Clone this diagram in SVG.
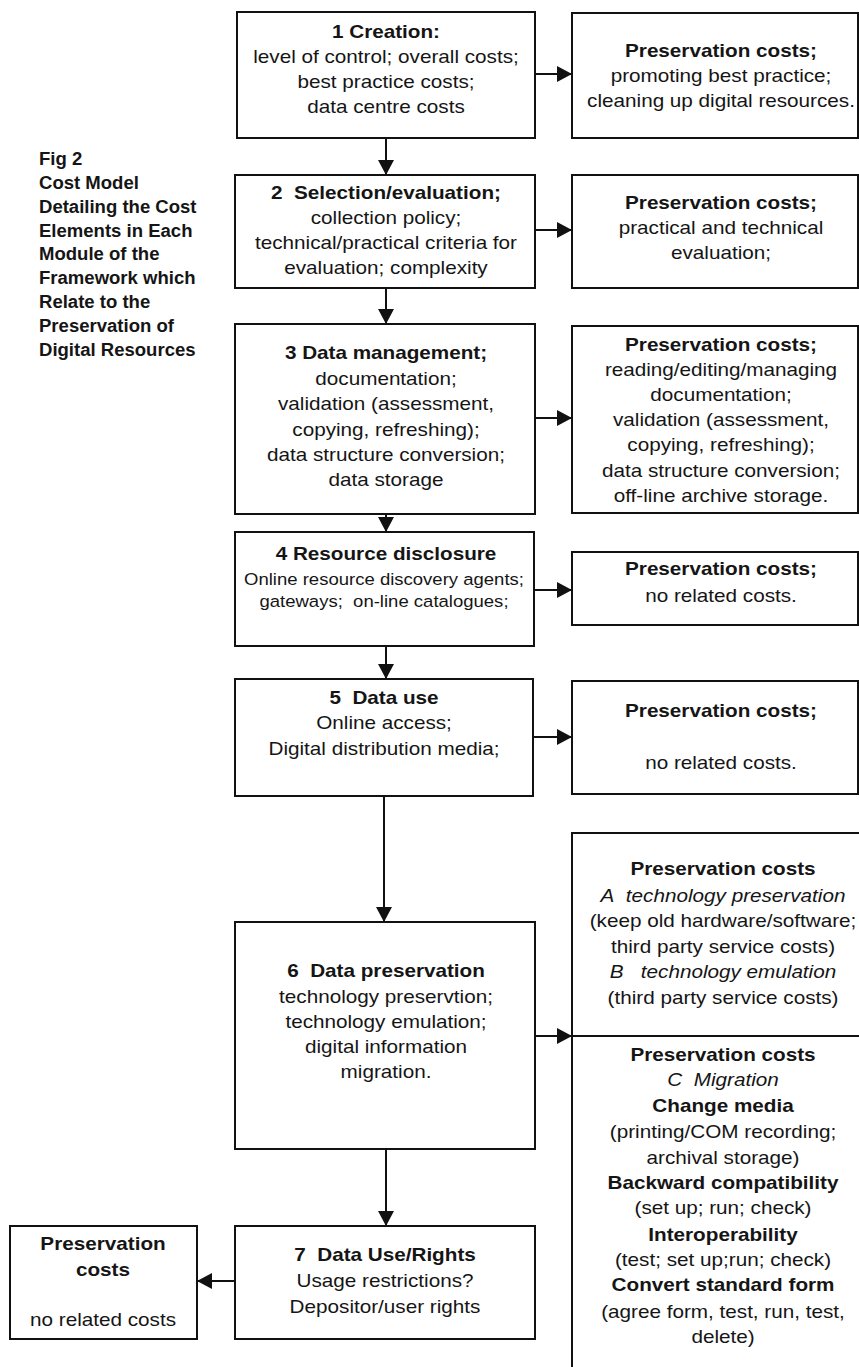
<svg xmlns="http://www.w3.org/2000/svg" width="859" height="1367" viewBox="0 0 859 1367">
<defs>
<marker id="ah" markerUnits="userSpaceOnUse" markerWidth="16" markerHeight="16" refX="15" refY="8" orient="auto">
<path d="M0,0 L15,8 L0,16 Z" fill="#111"/>
</marker>
<style>
.box{fill:#fff;stroke:#111;stroke-width:2}
.ln{fill:none;stroke:#111;stroke-width:2;marker-end:url(#ah)}
text{font-family:"Liberation Sans",Arial,sans-serif;font-size:18px;fill:#151515;text-anchor:middle}
.b{font-weight:bold}
.i{font-style:italic}
.sm{font-size:17px}
.title{font-weight:bold;font-size:18px;text-anchor:start}
</style>
</defs>
<rect width="859" height="1367" fill="#fff"/>

<g id="title" transform="translate(39 0) scale(1.03 1)">
<text class="title" x="0" y="165">Fig 2</text>
<text class="title" x="0" y="189">Cost Model</text>
<text class="title" x="0" y="213">Detailing the Cost</text>
<text class="title" x="0" y="237">Elements in Each</text>
<text class="title" x="0" y="260">Module of the</text>
<text class="title" x="0" y="284">Framework which</text>
<text class="title" x="0" y="308">Relate to the</text>
<text class="title" x="0" y="332">Preservation of</text>
<text class="title" x="0" y="356">Digital Resources</text>
</g>

<g id="connectors">
<line class="ln" x1="386" y1="138" x2="386" y2="175"/>
<line class="ln" x1="386" y1="288" x2="386" y2="324"/>
<line class="ln" x1="386" y1="514" x2="386" y2="532"/>
<line class="ln" x1="386" y1="646" x2="386" y2="679"/>
<line class="ln" x1="384" y1="796" x2="384" y2="922"/>
<line class="ln" x1="386" y1="1149" x2="386" y2="1226"/>
<line class="ln" x1="535" y1="74" x2="572" y2="74"/>
<line class="ln" x1="532" y1="230" x2="572" y2="230"/>
<line class="ln" x1="535" y1="418" x2="572" y2="418"/>
<line class="ln" x1="532" y1="590" x2="572" y2="590"/>
<line class="ln" x1="533" y1="737" x2="572" y2="737"/>
<line class="ln" x1="533" y1="1036" x2="572" y2="1036"/>
<line class="ln" x1="235" y1="1281" x2="197" y2="1281"/>
</g>

<g id="n1">
<rect class="box" x="237" y="12" width="298" height="126"/>
<g transform="translate(386 0) scale(1.15 1)">
<text class="b" x="0" y="38">1 Creation:</text>
<text x="0" y="63">level of control; overall costs;</text>
<text x="0" y="88">best practice costs;</text>
<text x="0" y="113">data centre costs</text>
</g>
</g>

<g id="r1">
<rect class="box" x="572" y="13" width="286" height="125"/>
<g transform="translate(721 0) scale(1.15 1)">
<text class="b" x="0" y="57">Preservation costs;</text>
<text x="0" y="82">promoting best practice;</text>
<text x="0" y="107">cleaning up digital resources.</text>
</g>
</g>

<g id="n2">
<rect class="box" x="235" y="175" width="300" height="113"/>
<g transform="translate(386 0) scale(1.15 1)">
<text class="b" x="0" y="199">2&#160; Selection/evaluation;</text>
<text x="0" y="224">collection policy;</text>
<text x="0" y="249">technical/practical criteria for</text>
<text x="0" y="274">evaluation; complexity</text>
</g>
</g>

<g id="r2">
<rect class="box" x="572" y="175" width="286" height="113"/>
<g transform="translate(721 0) scale(1.15 1)">
<text class="b" x="0" y="209">Preservation costs;</text>
<text x="0" y="234">practical and technical</text>
<text x="0" y="259">evaluation;</text>
</g>
</g>

<g id="n3">
<rect class="box" x="235" y="324" width="300" height="190"/>
<g transform="translate(386 0) scale(1.15 1)">
<text class="b" x="0" y="359">3 Data management;</text>
<text x="0" y="385">documentation;</text>
<text x="0" y="410">validation (assessment,</text>
<text x="0" y="436">copying, refreshing);</text>
<text x="0" y="461">data structure conversion;</text>
<text x="0" y="486">data storage</text>
</g>
</g>

<g id="r3">
<rect class="box" x="572" y="326" width="286" height="187"/>
<g transform="translate(721 0) scale(1.15 1)">
<text class="b" x="0" y="351">Preservation costs;</text>
<text x="0" y="376">reading/editing/managing</text>
<text x="0" y="401">documentation;</text>
<text x="0" y="426">validation (assessment,</text>
<text x="0" y="451">copying, refreshing);</text>
<text x="0" y="477">data structure conversion;</text>
<text x="0" y="502">off-line archive storage.</text>
</g>
</g>

<g id="n4">
<rect class="box" x="235" y="532" width="299" height="114"/>
<g transform="translate(386 0) scale(1.15 1)">
<text class="b" x="0" y="560">4 Resource disclosure</text>
</g>
<g transform="translate(384 0) scale(1.09 1)">
<text class="sm" x="0" y="585">Online resource discovery agents;</text>
<text class="sm" x="0" y="607">gateways;&#160; on-line catalogues;</text>
</g>
</g>

<g id="r4">
<rect class="box" x="572" y="552" width="286" height="73"/>
<g transform="translate(721 0) scale(1.15 1)">
<text class="b" x="0" y="575">Preservation costs;</text>
<text x="0" y="602">no related costs.</text>
</g>
</g>

<g id="n5">
<rect class="box" x="235" y="679" width="298" height="117"/>
<g transform="translate(384 0) scale(1.15 1)">
<text class="b" x="0" y="704">5&#160; Data use</text>
<text x="0" y="729">Online access;</text>
<text x="0" y="755">Digital distribution media;</text>
</g>
</g>

<g id="r5">
<rect class="box" x="572" y="681" width="286" height="113"/>
<g transform="translate(721 0) scale(1.15 1)">
<text class="b" x="0" y="717">Preservation costs;</text>
<text x="0" y="769">no related costs.</text>
</g>
</g>

<g id="n6">
<rect class="box" x="235" y="922" width="300" height="227"/>
<g transform="translate(386 0) scale(1.15 1)">
<text class="b" x="0" y="977">6&#160; Data preservation</text>
<text x="0" y="1003">technology preservtion;</text>
<text x="0" y="1028">technology emulation;</text>
<text x="0" y="1053">digital information</text>
<text x="0" y="1078">migration.</text>
</g>
</g>

<g id="r6">
<rect class="box" x="572" y="833" width="310" height="560"/>
<line x1="572" y1="1036" x2="859" y2="1036" stroke="#111" stroke-width="2"/>
<g transform="translate(723 0) scale(1.15 1)">
<text class="b" x="0" y="875">Preservation costs</text>
<text class="i" x="0" y="902">A&#160; technology preservation</text>
<text x="0" y="927">(keep old hardware/software;</text>
<text x="0" y="953">third party service costs)</text>
<text class="i" x="0" y="978">B&#160;&#160; technology emulation</text>
<text x="0" y="1004">(third party service costs)</text>
<text class="b" x="0" y="1061">Preservation costs</text>
<text class="i" x="0" y="1086">C&#160; Migration</text>
<text class="b" x="0" y="1112">Change media</text>
<text x="0" y="1138">(printing/COM recording;</text>
<text x="0" y="1164">archival storage)</text>
<text class="b" x="0" y="1189">Backward compatibility</text>
<text x="0" y="1214">(set up; run; check)</text>
<text class="b" x="0" y="1241">Interoperability</text>
<text x="0" y="1266">(test; set up;run; check)</text>
<text class="b" x="0" y="1291">Convert standard form</text>
<text x="0" y="1318">(agree form, test, run, test,</text>
<text x="0" y="1343">delete)</text>
</g>
</g>

<g id="n7">
<rect class="box" x="235" y="1226" width="300" height="113"/>
<g transform="translate(385 0) scale(1.15 1)">
<text class="b" x="0" y="1261">7&#160; Data Use/Rights</text>
<text x="0" y="1287">Usage restrictions?</text>
<text x="0" y="1313">Depositor/user rights</text>
</g>
</g>

<g id="l7">
<rect class="box" x="10" y="1226" width="187" height="113"/>
<g transform="translate(103 0) scale(1.15 1)">
<text class="b" x="0" y="1250">Preservation</text>
<text class="b" x="0" y="1276">costs</text>
<text x="0" y="1326">no related costs</text>
</g>
</g>
</svg>
